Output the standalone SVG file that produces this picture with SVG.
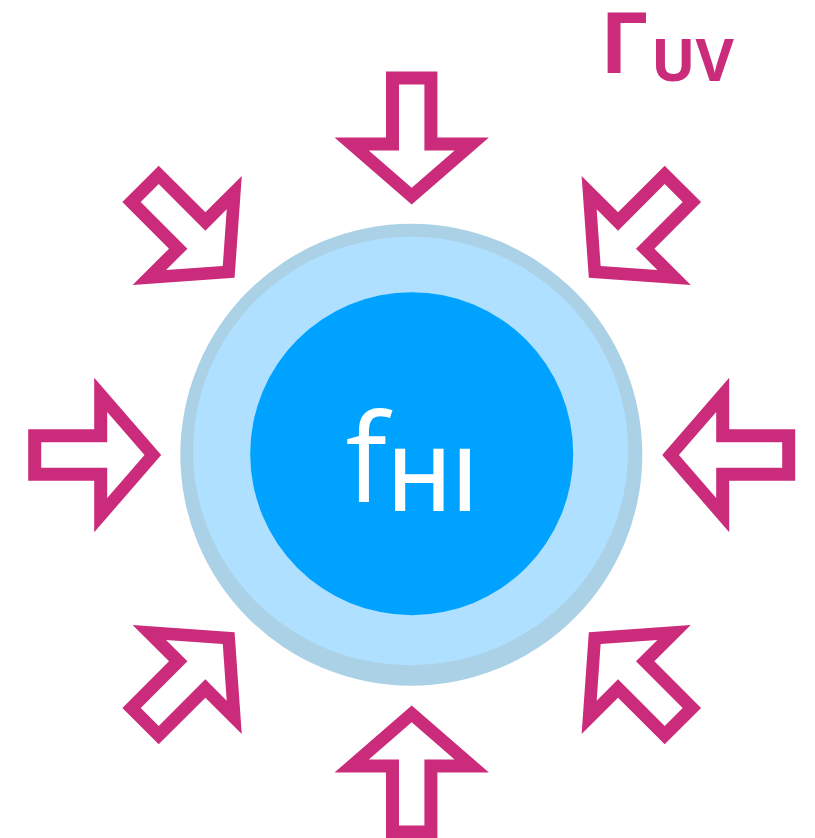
<svg xmlns="http://www.w3.org/2000/svg" xmlns:xlink="http://www.w3.org/1999/xlink" width="815" height="838" viewBox="0 0 815 838">
  <style>
    .arrow { fill: #cb2b7b; fill-rule: evenodd; }
    .mag { fill: #cb2b7b; font-family: "Open Sans", "Liberation Sans", sans-serif; font-weight: 700; }
    .wt { fill: #ffffff; font-family: "Open Sans", "Liberation Sans", sans-serif; }
  </style>
  <defs>
    <path id="arr" class="arrow" d="M-25.7,-383.5 H25.7 V-317.5 H77.2 L0,-250.5 L-77.2,-317.5 H-25.7 Z M-12.7,-370.5 H12.7 V-304.5 H42.9 L0,-267.2 L-42.9,-304.5 H-12.7 Z"/>
  </defs>
  <rect width="815" height="838" fill="#ffffff"/>
  <g id="arrows" transform="translate(411.7,455)">
    <use xlink:href="#arr" href="#arr"/>
    <use xlink:href="#arr" href="#arr" transform="rotate(45)"/>
    <use xlink:href="#arr" href="#arr" transform="rotate(90)"/>
    <use xlink:href="#arr" href="#arr" transform="rotate(135)"/>
    <use xlink:href="#arr" href="#arr" transform="rotate(180)"/>
    <use xlink:href="#arr" href="#arr" transform="rotate(225)"/>
    <use xlink:href="#arr" href="#arr" transform="rotate(270)"/>
    <use xlink:href="#arr" href="#arr" transform="rotate(315)"/>
  </g>
  <g id="cloud">
    <circle cx="411.3" cy="454.7" r="231" fill="#abd1e6"/>
    <ellipse cx="410.6" cy="451" rx="217.5" ry="214.2" fill="#b0e0ff"/>
    <circle cx="411.7" cy="453.7" r="161.5" fill="#00a2ff"/>
    <text class="wt" x="345.5" y="501.7" font-size="123">f</text>
    <text class="wt" x="387" y="510.7" font-size="86" font-weight="600">HI</text>
  </g>
  <g id="label-uv">
    <text class="mag" x="600" y="73.3" font-size="85">Γ</text>
    <text class="mag" x="651" y="80.7" font-size="59">UV</text>
  </g>
</svg>
